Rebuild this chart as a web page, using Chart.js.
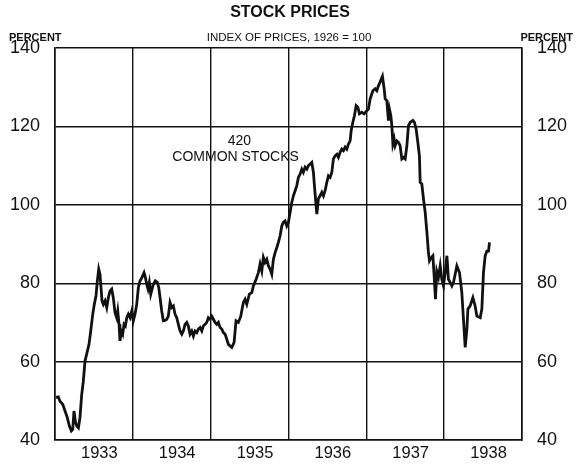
<!DOCTYPE html>
<html>
<head>
<meta charset="utf-8">
<script src="https://cdn.jsdelivr.net/npm/chart.js@4"></script>
<style>
  body { margin: 0; background: #fff; }
  #wrap { width: 576px; height: 467px; }
</style>
</head>
<body>
<div id="wrap"><canvas id="chart" width="576" height="467"></canvas></div>
<script>
// Datos (fecha en año decimal, índice 1926 = 100)
const fechas = [
  1933.013, 1933.042, 1933.064, 1933.099, 1933.129, 1933.158, 1933.184, 1933.210, 1933.228, 1933.244,
  1933.261, 1933.279, 1933.301, 1933.321, 1933.343, 1933.364, 1933.386, 1933.407, 1933.437, 1933.459,
  1933.485, 1933.505, 1933.527, 1933.544, 1933.562, 1933.578, 1933.591, 1933.604, 1933.621, 1933.643,
  1933.665, 1933.685, 1933.707, 1933.729, 1933.749, 1933.771, 1933.793, 1933.806, 1933.823, 1933.835,
  1933.852, 1933.870, 1933.887, 1933.904, 1933.922, 1933.942, 1933.964, 1933.986, 1934.006, 1934.028,
  1934.050, 1934.071, 1934.093, 1934.118, 1934.144, 1934.161, 1934.179, 1934.195, 1934.212, 1934.230,
  1934.247, 1934.263, 1934.289, 1934.315, 1934.333, 1934.350, 1934.371, 1934.392, 1934.414, 1934.436,
  1934.456, 1934.478, 1934.500, 1934.521, 1934.542, 1934.564, 1934.585, 1934.607, 1934.629, 1934.649,
  1934.671, 1934.693, 1934.713, 1934.735, 1934.757, 1934.778, 1934.799, 1934.821, 1934.842, 1934.864,
  1934.886, 1934.906, 1934.928, 1934.950, 1934.970, 1934.992, 1935.014, 1935.035, 1935.057, 1935.078,
  1935.099, 1935.121, 1935.143, 1935.163, 1935.185, 1935.207, 1935.228, 1935.271, 1935.301, 1935.326,
  1935.356, 1935.387, 1935.420, 1935.442, 1935.464, 1935.497, 1935.528, 1935.549, 1935.584, 1935.613,
  1935.635, 1935.657, 1935.677, 1935.699, 1935.721, 1935.742, 1935.763, 1935.785, 1935.806, 1935.828,
  1935.850, 1935.870, 1935.892, 1935.914, 1935.934, 1935.956, 1935.978, 1935.999, 1936.021, 1936.042,
  1936.063, 1936.085, 1936.107, 1936.127, 1936.149, 1936.171, 1936.191, 1936.213, 1936.235, 1936.256,
  1936.278, 1936.299, 1936.320, 1936.333, 1936.351, 1936.364, 1936.384, 1936.406, 1936.428, 1936.449,
  1936.470, 1936.492, 1936.513, 1936.535, 1936.557, 1936.577, 1936.599, 1936.621, 1936.641, 1936.663,
  1936.685, 1936.706, 1936.728, 1936.749, 1936.770, 1936.792, 1936.805, 1936.826, 1936.847, 1936.869,
  1936.891, 1936.911, 1936.942, 1936.972, 1937.006, 1937.027, 1937.049, 1937.084, 1937.113, 1937.135,
  1937.156, 1937.177, 1937.207, 1937.229, 1937.242, 1937.263, 1937.284, 1937.297, 1937.315, 1937.328,
  1937.341, 1937.357, 1937.370, 1937.392, 1937.413, 1937.434, 1937.456, 1937.477, 1937.499, 1937.521,
  1937.541, 1937.563, 1937.598, 1937.618, 1937.640, 1937.662, 1937.682, 1937.692, 1937.713, 1937.734,
  1937.756, 1937.778, 1937.798, 1937.811, 1937.833, 1937.855, 1937.871, 1937.888, 1937.906, 1937.927,
  1937.949, 1937.970, 1937.991, 1938.013, 1938.035, 1938.055, 1938.077, 1938.099, 1938.120, 1938.163,
  1938.197, 1938.227, 1938.248, 1938.270, 1938.292, 1938.305, 1938.334, 1938.369, 1938.398, 1938.420,
  1938.463, 1938.484, 1938.505, 1938.527, 1938.549, 1938.570, 1938.582
];
const indice = [
  50.9, 51.0, 49.9, 49.1, 47.4, 45.7, 43.6, 42.3, 42.7, 47.4,
  44.8, 43.6, 43.1, 45.7, 51.6, 55.0, 60.2, 61.9, 64.4, 67.8,
  72.1, 74.6, 76.8, 80.6, 83.6, 82.3, 78.9, 75.5, 74.6, 75.5,
  73.8, 76.3, 78.0, 78.5, 76.3, 72.5, 71.2, 72.9, 69.5, 65.3,
  67.8, 67.0, 69.5, 69.1, 71.2, 72.1, 71.2, 72.9, 70.4, 72.1,
  74.6, 78.9, 80.6, 81.5, 82.7, 81.5, 79.7, 78.5, 80.2, 77.2,
  78.5, 79.7, 80.6, 80.2, 78.9, 76.3, 72.9, 70.4, 70.5, 70.8,
  71.6, 75.1, 73.8, 74.2, 72.1, 71.2, 69.5, 67.8, 67.0, 67.8,
  69.5, 70.0, 69.1, 67.0, 67.8, 66.5, 67.8, 67.4, 68.3, 68.7,
  67.8, 69.1, 69.5, 70.0, 71.2, 70.8, 71.6, 70.8, 70.0, 69.5,
  70.0, 68.7, 68.3, 67.4, 67.0, 65.7, 64.4, 63.6, 64.9, 70.4,
  70.0, 71.6, 75.1, 75.9, 74.6, 77.2, 77.6, 79.3, 81.0, 82.7,
  84.9, 83.1, 86.6, 85.3, 86.1, 84.4, 83.6, 82.3, 86.1, 87.8,
  89.1, 90.4, 92.1, 94.6, 95.5, 95.9, 94.6, 95.5, 98.1, 100.6,
  102.3, 103.6, 104.9, 107.0, 107.8, 109.1, 108.3, 109.6, 109.1, 110.0,
  110.4, 110.8, 108.3, 104.9, 100.6, 97.6, 101.5, 102.3, 103.2, 102.3,
  103.6, 105.7, 107.4, 107.0, 108.3, 111.7, 112.5, 112.9, 112.1, 113.4,
  114.2, 113.8, 114.7, 114.2, 115.5, 116.3, 118.9, 121.0, 122.7, 125.3,
  124.9, 123.2, 123.6, 123.2, 124.0, 124.4, 127.0, 129.1, 129.6, 129.1,
  130.4, 131.3, 132.8, 129.6, 127.0, 126.6, 121.5, 124.4, 122.7, 120.2,
  115.5, 116.8, 115.1, 116.3, 115.9, 115.1, 111.7, 112.1, 111.7, 115.1,
  120.2, 121.0, 121.5, 121.0, 119.3, 115.9, 112.5, 105.7, 105.3, 101.5,
  98.1, 93.0, 87.8, 85.7, 86.5, 87.0, 81.9, 75.9, 83.0, 81.5,
  84.4, 81.0, 79.3, 82.7, 87.0, 81.0, 80.2, 79.3, 80.2, 84.4,
  82.7, 77.6, 70.8, 63.6, 68.3, 73.4, 74.2, 76.3, 74.2, 71.6,
  71.2, 73.4, 82.7, 87.0, 88.2, 88.2, 90.4
];
const limitesAnios = [1933, 1934, 1935, 1936, 1937, 1938, 1939];
const etiquetasAnios = ['1933', '1934', '1935', '1936', '1937', '1938'];
const ticksY = [40, 60, 80, 100, 120, 140];

const NEGRO = '#111';
const FUENTE = "'Liberation Sans', Arial, sans-serif";

// Textos fijos del gráfico (títulos, PERCENT y la leyenda de la curva)
const textosPlugin = {
    id: 'textos',
    afterDraw(chart) {
        const ctx = chart.ctx;
        const { x, y } = chart.scales;
        ctx.save();
        ctx.fillStyle = NEGRO;
        ctx.textBaseline = 'middle';
        ctx.textAlign = 'center';
        ctx.font = `bold 16px ${FUENTE}`;
        ctx.fillText('STOCK PRICES', 290, 13);
        ctx.font = `11.5px ${FUENTE}`;
        ctx.fillText('INDEX OF PRICES, 1926 = 100', 289, 38);
        ctx.font = `bold 11px ${FUENTE}`;
        ctx.textAlign = 'left';
        ctx.fillText('PERCENT', 9, 38);
        ctx.textAlign = 'right';
        ctx.fillText('PERCENT', 573, 38);
        // Etiqueta de la serie
        ctx.textAlign = 'center';
        ctx.font = `14px ${FUENTE}`;
        ctx.fillText('420', x.getPixelForValue(1935.37), y.getPixelForValue(116.2));
        ctx.fillText('COMMON STOCKS', x.getPixelForValue(1935.32), y.getPixelForValue(112.1));
        ctx.restore();
    }
};

new Chart(document.getElementById('chart'), {
    type: 'line',
    data: {
        datasets: [{
            label: '420 Common Stocks',
            data: fechas.map((f, i) => ({ x: f, y: indice[i] })),
            borderColor: NEGRO,
            borderWidth: 2.8,
            pointRadius: 0,
            tension: 0,
            xAxisID: 'x',
            yAxisID: 'y'
        }]
    },
    options: {
        responsive: false,
        animation: false,
        layout: { padding: { top: 48, left: 0, right: 0, bottom: 0 } },
        plugins: {
            legend: { display: false },
            tooltip: { enabled: false }
        },
        scales: {
            x: {
                type: 'linear',
                position: 'bottom',
                min: 1933, max: 1939,
                afterBuildTicks: s => { s.ticks = limitesAnios.map(v => ({ value: v })); },
                grid: { color: NEGRO, lineWidth: 1.4, drawTicks: false },
                border: { color: NEGRO, width: 1.6 },
                ticks: { display: false },
                afterFit: s => { s.height = 0; }
            },
            xAnios: {
                type: 'linear',
                position: 'bottom',
                min: 1933, max: 1939,
                // las etiquetas del original quedan un poco a la derecha del centro del año
                afterBuildTicks: s => { s.ticks = etiquetasAnios.map((e, i) => ({ value: limitesAnios[i] + 0.57 })); },
                grid: { display: false, drawTicks: false },
                border: { display: false },
                ticks: {
                    color: NEGRO,
                    font: { family: FUENTE, size: 16.5 },
                    padding: 4,
                    maxRotation: 0,
                    autoSkip: false,
                    callback: (v, i) => etiquetasAnios[i]
                },
                afterFit: s => { s.height = 27; }
            },
            y: {
                position: 'left',
                min: 40, max: 140,
                afterBuildTicks: s => { s.ticks = ticksY.map(v => ({ value: v })); },
                grid: { color: NEGRO, lineWidth: 1.4, drawTicks: false },
                border: { color: NEGRO, width: 1.6 },
                ticks: { color: NEGRO, font: { family: FUENTE, size: 18 }, padding: 15 },
                afterFit: s => { s.width = 55; }
            },
            y2: {
                position: 'right',
                min: 40, max: 140,
                afterBuildTicks: s => { s.ticks = ticksY.map(v => ({ value: v })); },
                grid: { display: false, drawTicks: false },
                border: { color: NEGRO, width: 1.6 },
                ticks: { color: NEGRO, font: { family: FUENTE, size: 18 }, padding: 15 },
                afterFit: s => { s.width = 54; }
            }
        }
    },
    plugins: [textosPlugin]
});
</script>
</body>
</html>
